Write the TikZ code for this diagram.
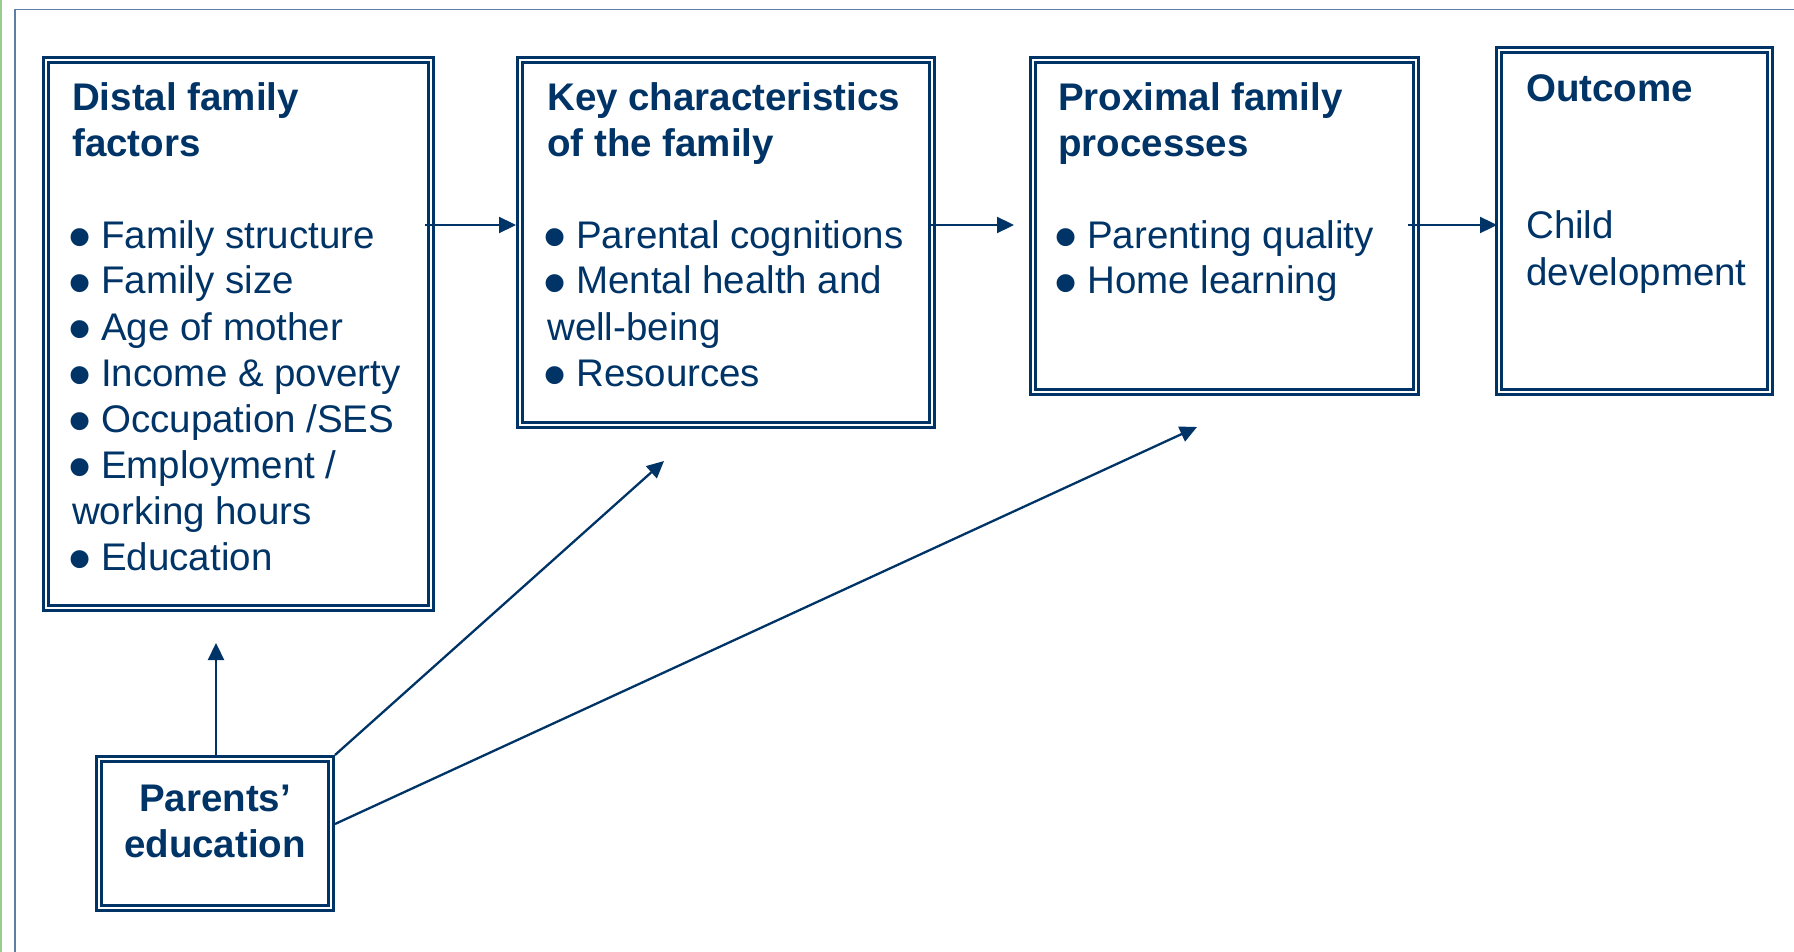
\documentclass[tikz,border=0pt]{standalone}
\usepackage{fontspec}
\setmainfont{Liberation Sans}
\usetikzlibrary{arrows.meta,calc}
\definecolor{navy}{RGB}{0,51,102}
\definecolor{framec}{RGB}{95,125,165}
\definecolor{greenl}{RGB}{150,205,140}
\newcommand\bul{\makebox[29pt][l]{\hspace*{-3.5pt}\smash{\raisebox{-11.4pt}{\fontsize{66pt}{46pt}\selectfont •}}}}
\begin{document}
\begin{tikzpicture}[x=1pt,y=-1pt,
  box/.style={draw=navy, double=white, double distance=2pt, line width=3pt, rectangle, outer sep=0pt, inner sep=0pt},
  txt/.style={anchor=base west, inner sep=0pt, text=navy, font=\fontsize{38.5pt}{46pt}\selectfont},
  ttl/.style={txt, font=\fontsize{38.5pt}{46pt}\selectfont\bfseries},
  arr/.style={draw=navy, line width=2.3pt, -{Triangle[length=17pt,width=16pt]}}]
\useasboundingbox (0,0) rectangle (1794,952);
% page frame
\draw[greenl, line width=2pt] (1,0) -- (1,952);
\draw[framec, line width=1.6pt] (14.8,952) -- (14.8,9.5) -- (1794,9.5);
% boxes
\node[box, minimum width=385pt, minimum height=548pt] (b1) at (238.5,334) {};
\node[box, minimum width=412pt, minimum height=365pt] (b2) at (726,242.5) {};
\node[box, minimum width=383pt, minimum height=332pt] (b3) at (1224.5,226) {};
\node[box, minimum width=271pt, minimum height=342pt] (b4) at (1634.5,221) {};
\node[box, minimum width=232pt, minimum height=149pt] (b5) at (215,833.5) {};
% box 1 text
\node[ttl] (d1) at (72,111) {Distal family};
\node[ttl] (d2) at (72,157) {factors};
\node[txt] (d3) at (72,248) {\bul Family structure};
\node[txt] (d4) at (72,294) {\bul Family size};
\node[txt] (d5) at (72,340) {\bul Age of mother};
\node[txt] (d6) at (72,386) {\bul Income \& poverty};
\node[txt] (d7) at (72,432) {\bul Occupation /SES};
\node[txt] (d8) at (72,478) {\bul Employment /};
\node[txt] (d9) at (72,524) {working hours};
\node[txt] (d10) at (72,570) {\bul Education};
% box 2 text
\node[ttl] (k1) at (547,111) {Key characteristics};
\node[ttl] (k2) at (547,157) {of the family};
\node[txt] (k3) at (547,248) {\bul Parental cognitions};
\node[txt] (k4) at (547,294) {\bul Mental health and};
\node[txt] (k5) at (547,340) {well-being};
\node[txt] (k6) at (547,386) {\bul Resources};
% box 3 text
\node[ttl] (p1) at (1058,111) {Proximal family};
\node[ttl] (p2) at (1058,157) {processes};
\node[txt] (p3) at (1058,248) {\bul Parenting quality};
\node[txt] (p4) at (1058,294) {\bul Home learning};
% box 4 text
\node[ttl] (o1) at (1526,102) {Outcome};
\node[txt] (o2) at (1526,239) {Child};
\node[txt] (o3) at (1526,285) {development};
% box 5 text
\node[ttl, anchor=base] (e1) at (215,811) {Parents’};
\node[ttl, anchor=base] (e2) at (215,857) {education};
% arrows
\coordinate (hy) at (0,225);
\draw[arr] ($(b1.east |- hy)+(-6,0)$) -- ($(b2.west |- hy)+(-4,0)$);
\draw[arr] ($(b2.east |- hy)+(-3,0)$) -- ($(b3.west |- hy)+(-19,0)$);
\draw[arr] ($(b3.east |- hy)+(-8,0)$) -- ($(b4.west |- hy)+(-2,0)$);
\coordinate (t4) at (216,643);
\coordinate (t5) at (664,461);
\coordinate (t6) at (1197,427);
\draw[arr] ($(t4 |- b5.north)+(0,-4)$) -- (t4);
\draw[arr] ($(b5.north east)+(4,-4)$) -- (t5);
\draw[arr] ($(b5.east)+(4,-9.5)$) -- (t6);
\end{tikzpicture}
\end{document}
